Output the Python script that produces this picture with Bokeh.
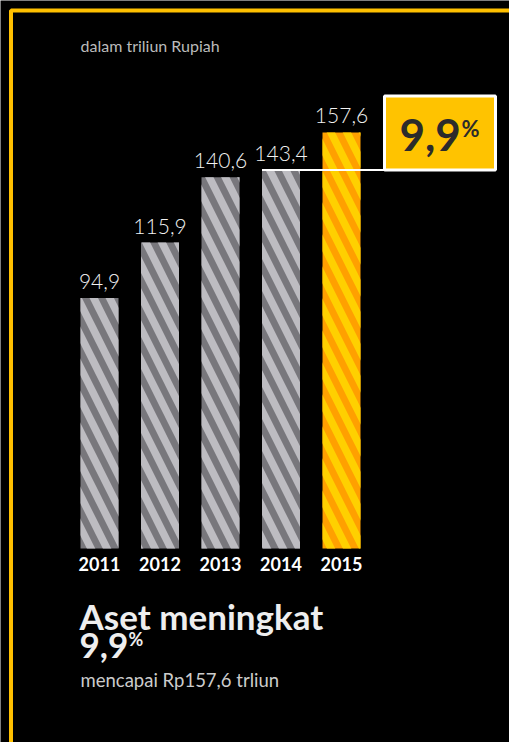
from bokeh.plotting import figure
from bokeh.models import Range1d, Label, BoxAnnotation, ColumnDataSource
from bokeh.core.properties import value
from bokeh.embed import file_html
from bokeh.resources import INLINE

# ---- data ----
years = ["2011", "2012", "2013", "2014", "2015"]
assets = [94.9, 115.9, 140.6, 143.4, 157.6]
value_labels = ["94,9", "115,9", "140,6", "143,4", "157,6"]
growth_label = "9,9"
unit_note = "dalam triliun Rupiah"
headline = "Aset meningkat"
subline = "mencapai Rp157,6 trliun"

# ---- layout (pixel mapping) ----
W, H = 509, 742
X0, DX = 99.0, 60.5      # pixel of first bar centre, pixels per category step
Y0, K = 548.0, 2.64      # pixel of zero baseline, pixels per unit


def dx(px):
    return (px - X0) / DX


def dy(py):
    return (Y0 - py) / K


SHIFT = 0.36  # empirical downward shift of Label text (in em)


def lab(px, py, text, size, color, bold=False, baseline="alphabetic", font="Lato"):
    return Label(x=dx(px), y=dy(py - SHIFT * size), text=text, text_font=font,
                 text_font_style="bold" if bold else "normal", text_font_size=f"{size}px",
                 text_color=color, text_baseline=baseline)


BW = 38.0 / DX

p = figure(width=W, height=H, x_range=Range1d(dx(0), dx(W)), y_range=Range1d(dy(H), dy(0)),
           x_axis_type=None, y_axis_type=None, min_border=0,
           background_fill_color="black", border_fill_color="black",
           outline_line_color=None, toolbar_location=None, output_backend="svg")
p.grid.visible = False

# yellow frame (left + top)
p.add_layout(BoxAnnotation(left=dx(10.5), right=dx(560), top=dy(10), bottom=dy(900),
                           fill_color=None, line_color="#FFC000", line_width=4, line_alpha=1))

n = len(years)
src = ColumnDataSource(dict(
    x=list(range(n)), top=assets, label=value_labels, year=years,
    fill=["#78777C"] * (n - 1) + ["#FFA000"],
    hatch=["#BDBCC1"] * (n - 1) + ["#FFD000"],
))

p.vbar(x="x", top="top", bottom=0, width=BW, source=src, fill_color="fill", line_color=None,
       hatch_pattern="left_diagonal_line", hatch_color="hatch", hatch_weight=7.5, hatch_scale=32)

p.text(x="x", y="top", text="label", source=src, text_align="center", text_baseline="bottom",
       y_offset=-9, text_font=value("Lato Light"), text_font_size="21px", text_color="#F2F2F2")

p.text(x="x", y=dy(556), text="year", source=src, text_align="center", text_baseline="top",
       text_font=value("Lato"), text_font_style="bold", text_font_size="18px", text_color="white")

# connector line from 2014 bar to the growth box
p.segment(x0=3 - BW / 2, y0=assets[3], x1=dx(384), y1=assets[3], line_color="white", line_width=2)

p.add_layout(BoxAnnotation(left=dx(384), right=dx(495), bottom=assets[3], top=assets[3] + 74 / K,
                           fill_color="#FFC300", fill_alpha=1, line_color="white", line_alpha=1,
                           line_width=3))

p.add_layout(lab(399, 150, growth_label, 44, "#2B2B2B", bold=True))
p.add_layout(lab(461, 122, "%", 22, "#2B2B2B", bold=True, baseline="top"))

p.add_layout(lab(80, 51, unit_note, 16, "#BBBBBB"))

p.add_layout(lab(79, 628, headline, 35, "#EEEEEE", bold=True))
p.add_layout(lab(79, 658, growth_label, 35, "#EEEEEE", bold=True))
p.add_layout(lab(128, 634, "%", 18, "#EEEEEE", bold=True, baseline="top"))
p.add_layout(lab(80, 686, subline, 18.5, "#CCCCCC"))

open("out.html", "w").write(file_html(p, INLINE))
